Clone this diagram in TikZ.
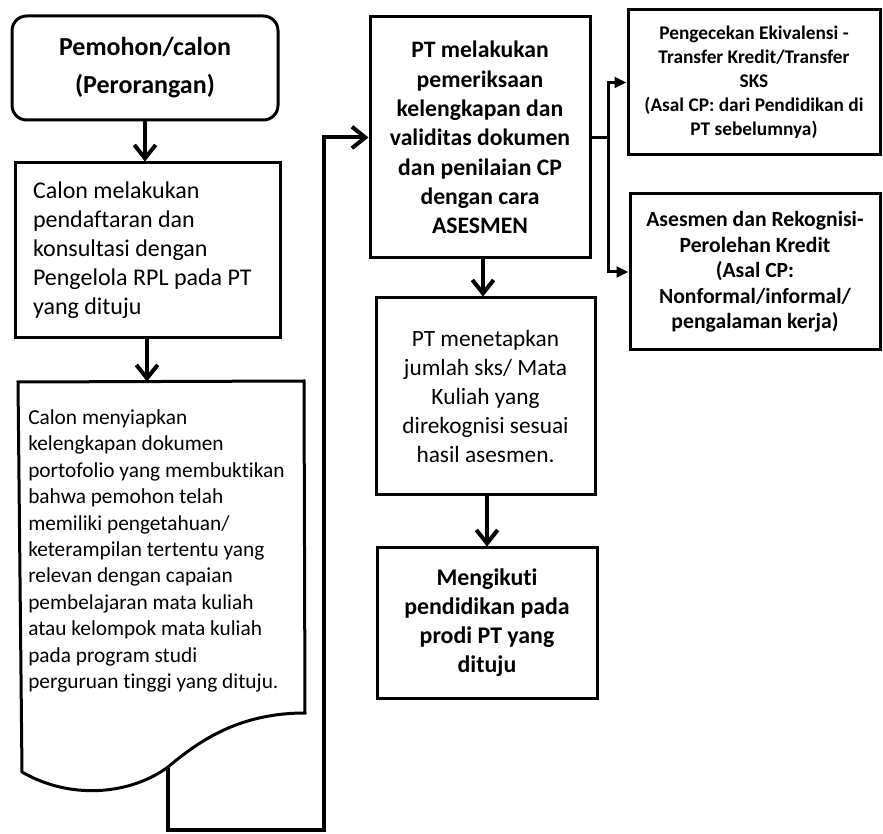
\documentclass[tikz,border=0pt]{standalone}
\usepackage{fontspec}
\setmainfont{Carlito}[Ligatures=NoCommon]
\usetikzlibrary{arrows.meta}
\tikzset{
  boxbase/.style={draw, line width=2.25pt, inner sep=0pt},
  box/.style={boxbase, align=center},
  flow/.style={line width=3pt, -{Straight Barb[length=10pt,width=16pt]}},
  branch/.style={line width=2.25pt, -{Triangle[length=9pt,width=8pt]}},
  fA/.style={font=\fontsize{19.5pt}{28.5pt}\selectfont\bfseries},
  fB/.style={font=\fontsize{18pt}{21.75pt}\selectfont},
  fC/.style={font=\fontsize{16pt}{19.8pt}\selectfont},
  fD/.style={font=\fontsize{17.75pt}{22pt}\selectfont\bfseries},
  fE/.style={font=\fontsize{17.5pt}{21.75pt}\selectfont},
  fF/.style={font=\fontsize{17.9pt}{21.75pt}\selectfont\bfseries},
  fG/.style={font=\fontsize{14.5pt}{18pt}\selectfont\bfseries},
  fH/.style={font=\fontsize{16.25pt}{19.1pt}\selectfont\bfseries},
}
\begin{document}
\begin{tikzpicture}[x=0.75pt,y=-0.75pt]
\useasboundingbox (0,0) rectangle (883,834);
% boxes
\node[box, rounded corners=11pt, minimum width=199.5pt, minimum height=78pt, fA] (A) at (145,68) {Pemohon/calon\\(Perorangan)};
\node[boxbase, inner xsep=13.5pt, minimum height=131.25pt, fB] (B) at (147.5,250.5)
  {\parbox{171.75pt}{\raggedright Calon melakukan\\pendaftaran dan\\konsultasi dengan\\Pengelola RPL pada PT\\yang dituju}};
% document shape
\coordinate (cTL) at (18,382);
\coordinate (cTR) at (304,381);
\coordinate (cBR) at (305,713);
\coordinate (loopstart) at (168,767);
\coordinate (cBL) at (22,772);
\draw[line width=2.25pt, line join=miter]
  (cTL) -- (cTR) -- (cBR) .. controls (240,713) and (200,740) .. (loopstart)
  .. controls (130,795) and (70,800) .. (cBL) -- cycle;
\coordinate (cTop) at (147,381.5);
\node[align=left, inner sep=0pt, anchor=west, fC] (C) at (28,551)
  {Calon menyiapkan\\kelengkapan dokumen\\portofolio yang membuktikan\\bahwa pemohon telah\\memiliki pengetahuan/\\keterampilan tertentu yang\\relevan dengan capaian\\pembelajaran mata kuliah\\atau kelompok mata kuliah\\pada program studi\\perguruan tinggi yang dituju.};
\node[box, minimum width=165pt, minimum height=180.75pt, fD] (D) at (480,137.5)
  {PT melakukan\\pemeriksaan\\kelengkapan dan\\validitas dokumen\\dan penilaian CP\\dengan cara\\ASESMEN};
\node[box, minimum width=164.25pt, minimum height=147.75pt, fE] (E) at (485.5,396.5)
  {PT menetapkan\\jumlah sks/ Mata\\Kuliah yang\\direkognisi sesuai\\hasil asesmen.};
\node[box, minimum width=165pt, minimum height=112.5pt, fF] (F) at (487,623)
  {Mengikuti\\pendidikan pada\\prodi PT yang\\dituju};
\node[box, minimum width=189pt, minimum height=108.75pt, fG] (G) at (754,82.5)
  {Pengecekan Ekivalensi -\\Transfer Kredit/Transfer\\SKS\\(Asal CP: dari Pendidikan di\\PT sebelumnya)};
\node[box, minimum width=187.5pt, minimum height=117pt, fH] (H) at (755,272)
  {Asesmen dan Rekognisi-\\Perolehan Kredit\\(Asal CP:\\Nonformal/informal/\\pengalaman kerja)};
% connectors
\draw[flow] (A.south) -- (A.south |- B.north);
\draw[flow] (B.south -| cTop) -- (cTop);
\draw[flow] (D.south -| 483,0) -- (E.north -| 483,0);
\draw[flow] (E.south -| 487,0) -- (F.north -| 487,0);
\coordinate (lp1) at (168,830);
\coordinate (lp2) at (324,830);
\draw[flow, line join=miter] (loopstart) -- (lp1) -- (lp2) |- (D.west);
\coordinate (j) at (608,137.5);
\draw[line width=2.25pt] (D.east) -- (j);
\draw[branch, line join=miter] (j) |- (G.west);
\draw[branch, line join=miter] (j) |- (H.west);
\end{tikzpicture}
\end{document}
